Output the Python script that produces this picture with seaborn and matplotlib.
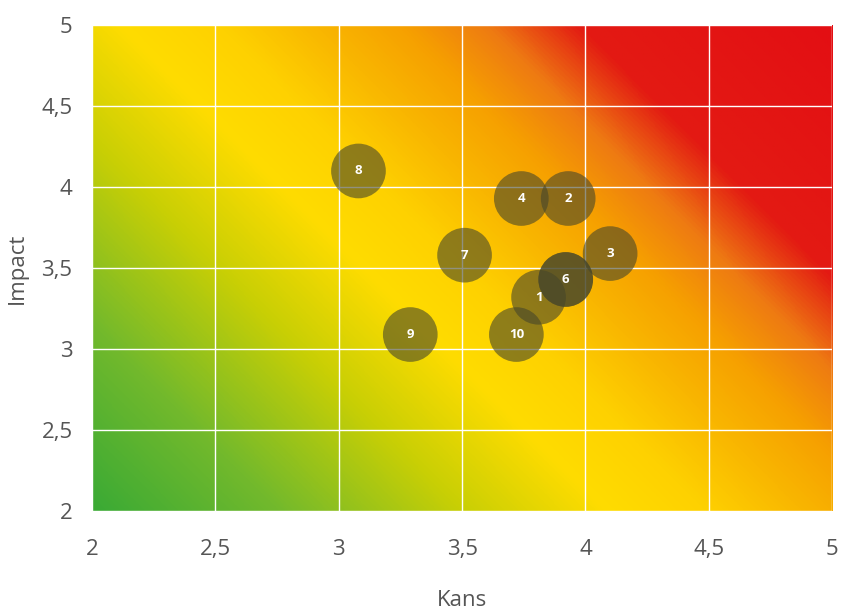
import numpy as np
import pandas as pd
import seaborn as sns
import matplotlib.pyplot as plt
from matplotlib.colors import LinearSegmentedColormap

# risk items: number, kans (x), impact (y)
labels = ["1", "2", "3", "4", "5", "6", "7", "8", "9", "10"]
kans = [3.81, 3.93, 4.10, 3.74, 3.92, 3.92, 3.51, 3.08, 3.29, 3.72]
impact = [3.32, 3.93, 3.59, 3.93, 3.43, 3.43, 3.58, 4.10, 3.09, 3.09]
tick_vals = [2, 2.5, 3, 3.5, 4, 4.5, 5]
tick_labels = ["2", "2,5", "3", "3,5", "4", "4,5", "5"]

df = pd.DataFrame({"label": labels, "Kans": kans, "Impact": impact})

sns.set_style("white")
plt.rcParams["font.family"] = ["Open Sans", "DejaVu Sans"]

fig = plt.figure(figsize=(8.44, 6.15), dpi=100)
ax = fig.add_axes([0.109, 0.169, 0.877, 0.790])

# diagonal background gradient (green -> yellow -> orange -> red)
risk_cmap = LinearSegmentedColormap.from_list("risk", [
    (0.00, "#3aaa35"),
    (0.15, "#72b92c"),
    (0.30, "#c8cf05"),
    (0.42, "#ffdc00"),
    (0.50, "#fed100"),
    (0.58, "#f9b600"),
    (0.65, "#f6a000"),
    (0.72, "#ee7a12"),
    (0.795, "#e31a13"),
    (1.00, "#e30f13"),
])
w_px, h_px = 740, 486
u = np.linspace(0, 1, 600)
v = np.linspace(0, 1, 400)
U, V = np.meshgrid(u, v)
T = (U * w_px + V * h_px) / (w_px + h_px)
ax.imshow(T, cmap=risk_cmap, extent=[2, 5, 2, 5], origin="lower",
          aspect="auto", vmin=0, vmax=1, zorder=0)

sns.scatterplot(data=df, x="Kans", y="Impact", s=1550, color="#46462a",
                alpha=0.6, edgecolor="none", ax=ax, zorder=3, legend=False)

# one number per position: a later item hides an earlier one at the same spot
shown = df.drop_duplicates(subset=["Kans", "Impact"], keep="last")
for _, row in shown.iterrows():
    ax.text(row["Kans"], row["Impact"], row["label"], ha="center", va="center",
            color="white", fontsize=9.5, fontweight="bold", zorder=4)

ax.set_xlim(2, 5)
ax.set_ylim(2, 5)
ax.set_xticks(tick_vals)
ax.set_xticklabels(tick_labels)
ax.set_yticks(tick_vals)
ax.set_yticklabels(tick_labels)
ax.grid(True, color="white", linewidth=1, zorder=1)
ax.set_axisbelow(False)
for sp in ax.spines.values():
    sp.set_visible(False)
ax.tick_params(axis="both", length=0, labelsize=16, labelcolor="#555555")
ax.tick_params(axis="x", pad=20)
ax.tick_params(axis="y", pad=14)
ax.set_xlabel("Kans", fontsize=16, color="#555555", labelpad=22)
ax.set_ylabel("Impact", fontsize=16, color="#555555", labelpad=10)

fig.savefig("out.png", dpi=100)
